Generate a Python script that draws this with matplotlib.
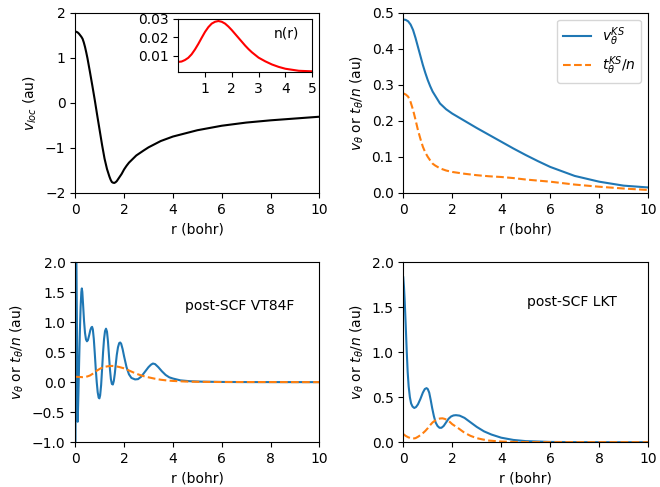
import matplotlib
matplotlib.use('Agg')
import matplotlib.pyplot as plt
import numpy as np

# local potential (top left)
r_loc = [0, 0.05, 0.1, 0.15, 0.2, 0.25, 0.3, 0.35, 0.4, 0.45, 0.5, 0.6, 0.7, 0.8, 0.9, 1.0, 1.1, 1.2,
         1.3, 1.4, 1.45, 1.5, 1.55, 1.6, 1.65, 1.7, 1.75, 1.8, 1.9, 2.0, 2.1, 2.2, 2.35, 2.5, 2.8,
         3.0, 3.5, 4.0, 5.0, 6.0, 7.0, 8.0, 9.0, 10.0]
v_loc = [1.58, 1.575, 1.56, 1.535, 1.50, 1.465, 1.42, 1.34, 1.24, 1.12, 0.99, 0.69, 0.38, 0.06, -0.28,
         -0.61, -0.94, -1.24, -1.47, -1.64, -1.71, -1.76, -1.775, -1.78, -1.765, -1.74, -1.70, -1.66,
         -1.58, -1.48, -1.40, -1.33, -1.25, -1.17, -1.06, -0.99, -0.85, -0.75, -0.61, -0.51, -0.44,
         -0.39, -0.35, -0.31]

# density (inset)
r_n = [0, 0.125, 0.25, 0.375, 0.5, 0.625, 0.75, 0.875, 1.0, 1.125, 1.25, 1.375, 1.5, 1.625, 1.75,
       1.875, 2.0, 2.125, 2.25, 2.375, 2.5, 2.625, 2.75, 3.0, 3.25, 3.5, 3.75, 4.0, 4.5, 5.0]
n_r = [0.0068, 0.0070, 0.0078, 0.0090, 0.0109, 0.0135, 0.0165, 0.0198, 0.0230, 0.0256, 0.0275,
       0.0285, 0.0289, 0.0285, 0.0275, 0.0259, 0.0240, 0.0219, 0.0198, 0.0177, 0.0156, 0.0137,
       0.0120, 0.0091, 0.0071, 0.0054, 0.0041, 0.0031, 0.0020, 0.0017]

# KS Pauli quantities (top right)
r_ks = [0, 0.1, 0.2, 0.3, 0.4, 0.5, 0.6, 0.7, 0.8, 0.9, 1.0, 1.1, 1.2, 1.3, 1.5, 1.75, 2.0, 2.5, 3.0,
        3.5, 4.0, 4.5, 5.0, 5.5, 6.0, 7.0, 8.0, 9.0, 10.0]
v_ks = [0.481, 0.480, 0.476, 0.467, 0.452, 0.430, 0.405, 0.380, 0.355, 0.333, 0.313, 0.296, 0.281,
        0.270, 0.248, 0.232, 0.220, 0.200, 0.180, 0.161, 0.142, 0.123, 0.105, 0.088, 0.072, 0.047,
        0.031, 0.020, 0.015]
t_ks = [0.276, 0.273, 0.267, 0.252, 0.230, 0.203, 0.174, 0.150, 0.128, 0.112, 0.100, 0.090, 0.081,
        0.076, 0.068, 0.062, 0.058, 0.053, 0.049, 0.046, 0.044, 0.041, 0.037, 0.034, 0.031, 0.023,
        0.017, 0.012, 0.008]

# post-SCF VT84F (bottom left)
r_vt = [0, 0.03, 0.1, 0.13, 0.16, 0.19, 0.22, 0.25, 0.27, 0.29, 0.32, 0.36, 0.40, 0.44, 0.48, 0.52,
        0.57, 0.62, 0.66, 0.69, 0.72, 0.76, 0.80, 0.84, 0.88, 0.92, 0.96, 0.99, 1.02, 1.06, 1.10,
        1.14, 1.18, 1.22, 1.26, 1.30, 1.34, 1.38, 1.42, 1.46, 1.50, 1.54, 1.58, 1.62, 1.66, 1.70,
        1.75, 1.80, 1.84, 1.88, 1.94, 2.0, 2.1, 2.2, 2.3, 2.45, 2.57, 2.7, 2.85, 3.0, 3.1, 3.18,
        3.27, 3.4, 3.55, 3.7, 3.85, 4.0, 4.3, 4.7, 5.2, 6.0, 7.0, 10.0]
v_vt = [-3.0, 3.0, -0.66, -0.2, 0.35, 0.85, 1.25, 1.50, 1.56, 1.50, 1.30, 1.02, 0.82, 0.71, 0.68,
        0.70, 0.78, 0.87, 0.91, 0.92, 0.88, 0.72, 0.48, 0.22, 0.0, -0.17, -0.26, -0.27, -0.22, -0.05,
        0.22, 0.50, 0.72, 0.85, 0.89, 0.84, 0.68, 0.45, 0.22, 0.05, -0.03, -0.04, 0.02, 0.14, 0.30,
        0.45, 0.58, 0.65, 0.66, 0.64, 0.55, 0.43, 0.25, 0.13, 0.07, 0.045, 0.05, 0.09, 0.17, 0.25,
        0.29, 0.31, 0.30, 0.25, 0.18, 0.12, 0.08, 0.06, 0.03, 0.015, 0.008, 0.003, 0.001, 0.0]
r_tvt = [0, 0.2, 0.3, 0.4, 0.5, 0.6, 0.7, 0.8, 0.9, 1.0, 1.1, 1.2, 1.35, 1.5, 1.65, 1.8, 2.0, 2.25,
         2.5, 2.75, 3.0, 3.25, 3.5, 3.75, 4.0, 4.5, 5.0, 6.0, 10.0]
t_vt = [0.09, 0.085, 0.083, 0.087, 0.095, 0.11, 0.135, 0.165, 0.195, 0.22, 0.24, 0.255, 0.265, 0.27,
        0.265, 0.252, 0.23, 0.185, 0.14, 0.105, 0.08, 0.058, 0.04, 0.028, 0.02, 0.01, 0.005, 0.002,
        0.0]

# post-SCF LKT (bottom right)
r_lkt = [0, 0.03, 0.06, 0.1, 0.14, 0.18, 0.22, 0.27, 0.32, 0.38, 0.45, 0.52, 0.6, 0.7, 0.8, 0.88,
         0.95, 1.0, 1.06, 1.12, 1.18, 1.25, 1.32, 1.40, 1.48, 1.56, 1.65, 1.75, 1.85, 1.95, 2.05,
         2.15, 2.3, 2.5, 2.7, 3.0, 3.3, 3.6, 4.0, 4.5, 5.0, 6.0, 7.0, 10.0]
v_lkt = [1.83, 1.72, 1.56, 1.30, 1.02, 0.78, 0.62, 0.50, 0.43, 0.395, 0.38, 0.39, 0.42, 0.48, 0.55,
         0.59, 0.60, 0.59, 0.55, 0.47, 0.38, 0.29, 0.22, 0.18, 0.16, 0.16, 0.18, 0.22, 0.26, 0.285,
         0.297, 0.30, 0.295, 0.27, 0.23, 0.17, 0.12, 0.085, 0.05, 0.025, 0.012, 0.003, 0.001, 0.0]
r_tlkt = [0, 0.1, 0.2, 0.3, 0.4, 0.5, 0.6, 0.7, 0.8, 0.9, 1.0, 1.1, 1.2, 1.3, 1.4, 1.5, 1.6, 1.7,
          1.8, 1.9, 2.0, 2.25, 2.5, 2.75, 3.0, 3.25, 3.5, 4.0, 4.5, 5.0, 10.0]
t_lkt = [0.09, 0.07, 0.055, 0.045, 0.04, 0.045, 0.06, 0.078, 0.1, 0.125, 0.155, 0.19, 0.22, 0.24,
         0.255, 0.263, 0.265, 0.258, 0.245, 0.225, 0.2, 0.155, 0.105, 0.07, 0.045, 0.03, 0.018,
         0.007, 0.003, 0.001, 0.0]

plt.rcParams['font.size'] = 10
ylab = r'$v_\theta$ or $t_\theta/n$ (au)'

fig = plt.figure(figsize=(6.6, 4.87), dpi=100)

ax1 = fig.add_axes([0.114, 0.604, 0.370, 0.370])
ax1.plot(r_loc, v_loc, color='black', lw=1.5)
ax1.set_xlim(0, 10)
ax1.set_ylim(-2, 2)
ax1.set_yticks([-2, -1, 0, 1, 2])
ax1.set_xlabel('r (bohr)')
ax1.set_ylabel(r'$v_{loc}$ (au)')

axin = fig.add_axes([0.270, 0.852, 0.203, 0.109])
axin.plot(r_n, n_r, color='red', lw=1.5)
axin.set_xlim(0, 5)
axin.set_ylim(0.0013, 0.03)
axin.set_xticks([1, 2, 3, 4, 5])
axin.set_yticks([0.01, 0.02, 0.03])
axin.text(0.71, 0.72, 'n(r)', transform=axin.transAxes, va='center')

ax2 = fig.add_axes([0.611, 0.604, 0.371, 0.370])
ax2.plot(r_ks, v_ks, color='C0', lw=1.5, label=r'$v_\theta^{KS}$')
ax2.plot(r_ks, t_ks, color='C1', lw=1.5, ls='--', label=r'$t_\theta^{KS}/n$')
ax2.set_xlim(0, 10)
ax2.set_ylim(0, 0.5)
ax2.set_xlabel('r (bohr)')
ax2.set_ylabel(ylab)
ax2.legend(loc='upper right')

ax3 = fig.add_axes([0.114, 0.092, 0.370, 0.370])
ax3.plot(r_vt, v_vt, color='C0', lw=1.5)
ax3.plot(r_tvt, t_vt, color='C1', lw=1.5, ls='--')
ax3.set_xlim(0, 10)
ax3.set_ylim(-1, 2)
ax3.set_xlabel('r (bohr)')
ax3.set_ylabel(ylab)
ax3.text(0.45, 0.755, 'post-SCF VT84F', transform=ax3.transAxes, va='center')

ax4 = fig.add_axes([0.611, 0.092, 0.371, 0.370])
ax4.plot(r_lkt, v_lkt, color='C0', lw=1.5)
ax4.plot(r_tlkt, t_lkt, color='C1', lw=1.5, ls='--')
ax4.set_xlim(0, 10)
ax4.set_ylim(0, 2)
ax4.set_xlabel('r (bohr)')
ax4.set_ylabel(ylab)
ax4.text(0.506, 0.78, 'post-SCF LKT', transform=ax4.transAxes, va='center')

fig.savefig('out.png', dpi=100)
